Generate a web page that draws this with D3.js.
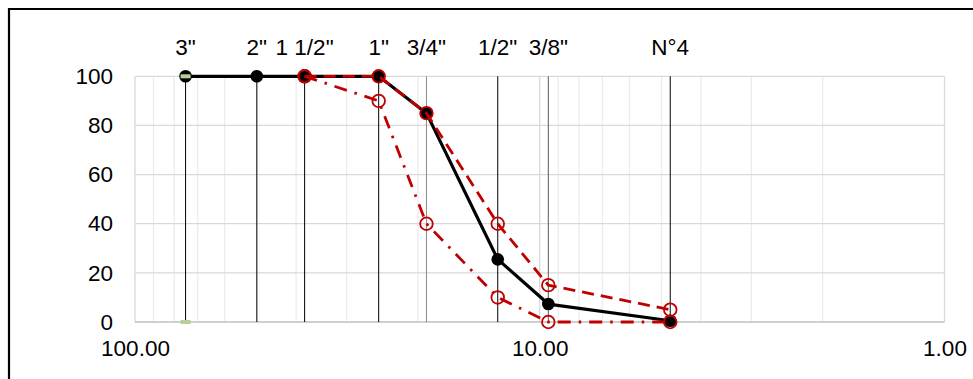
<!DOCTYPE html>
<html>
<head>
<meta charset="utf-8">
<script src="https://cdn.jsdelivr.net/npm/d3@7"></script>
<style>
  html, body { margin: 0; padding: 0; background: #fff; }
  svg { display: block; font-family: "Liberation Sans", Arial, sans-serif; }
</style>
</head>
<body>
<svg id="chart" width="973" height="379"></svg>
<script>
// ---- data ----
const sieveLabels = ['3"', '2"', '1 1/2"', '1"', '3/4"', '1/2"', '3/8"', 'N°4'];
const sieveSizes = [75, 50, 38.1, 25, 19.05, 12.7, 9.525, 4.76];
const sieveLineColors = ['#000', '#000', '#000', '#000', '#8c8c8c', '#000', '#595959', '#000'];
const passing = [100, 100, 100, 100, 85, 25.5, 7.3, 0.5];
const upperLimit = [null, null, 100, 100, 85, 40, 15, 5];
const lowerLimit = [null, null, 100, 90, 40, 10, 0, 0];
const greenMarks = [0, 100]; // markers at 3"
const yTicks = [0, 20, 40, 60, 80, 100];
const xMajorTicks = [100, 10, 1];
const xMinorTicks = [90, 80, 70, 60, 50, 40, 30, 20, 9, 8, 7, 6, 5, 4, 3, 2];

const svg = d3.select('#chart');
const pLeft = 135, pRight = 944.5, pTop = 76.3, pBottom = 322;

const x = d3.scaleLog().domain([100, 1]).range([pLeft, pRight]);
const y = d3.scaleLinear().domain([0, 100]).range([pBottom, pTop]);

// outer border
svg.append('path')
  .attr('d', `M9,385 L9,9 L980,9`)
  .attr('fill', 'none').attr('stroke', '#000').attr('stroke-width', 2.2);

// minor vertical gridlines
svg.append('g').selectAll('line').data(xMinorTicks).join('line')
  .attr('x1', d => x(d)).attr('x2', d => x(d))
  .attr('y1', pTop).attr('y2', pBottom)
  .attr('stroke', '#ececec').attr('stroke-width', 1.3);
svg.append('g').selectAll('line').data(xMajorTicks).join('line')
  .attr('x1', d => x(d)).attr('x2', d => x(d))
  .attr('y1', pTop).attr('y2', pBottom)
  .attr('stroke', '#d9d9d9').attr('stroke-width', 1.3);

// horizontal gridlines
svg.append('g').selectAll('line').data(yTicks).join('line')
  .attr('x1', pLeft).attr('x2', pRight)
  .attr('y1', d => y(d)).attr('y2', d => y(d))
  .attr('stroke', d => d === 0 ? '#bfbfbf' : '#d9d9d9').attr('stroke-width', 1.3);

// y axis labels
const yAxis = d3.axisLeft(y).tickValues(yTicks).tickSize(0).tickPadding(22).tickFormat(d3.format('d'));
const gy = svg.append('g').attr('transform', `translate(${pLeft},0)`).call(yAxis);
gy.select('.domain').remove();
gy.selectAll('text').attr('font-size', 22.5).attr('fill', '#000')
  .attr('font-family', '"Liberation Sans", Arial, sans-serif');

// x axis labels
const xAxis = d3.axisBottom(x).tickValues(xMajorTicks).tickSize(0).tickPadding(18).tickFormat(d3.format('.2f'));
const gx = svg.append('g').attr('transform', `translate(0,${pBottom})`).call(xAxis);
gx.select('.domain').remove();
gx.selectAll('text').attr('font-size', 22.5).attr('fill', '#000')
  .attr('font-family', '"Liberation Sans", Arial, sans-serif');

// sieve vertical lines
svg.append('g').selectAll('line').data(sieveSizes).join('line')
  .attr('x1', d => x(d)).attr('x2', d => x(d))
  .attr('y1', y(100)).attr('y2', y(0))
  .attr('stroke', (d, i) => sieveLineColors[i]).attr('stroke-width', 1);

// sieve labels on top
svg.append('g').selectAll('text').data(sieveLabels).join('text')
  .attr('x', (d, i) => x(sieveSizes[i])).attr('y', 55)
  .attr('text-anchor', 'middle').attr('font-size', 22.5).attr('fill', '#000')
  .text(d => d);

function pts(vals) {
  return vals.map((v, i) => ({ s: sieveSizes[i], v })).filter(p => p.v !== null);
}
const line = d3.line().x(p => x(p.s)).y(p => y(p.v));

// passing curve
svg.append('path').datum(pts(passing)).attr('d', line)
  .attr('fill', 'none').attr('stroke', '#000').attr('stroke-width', 3.2)
  .attr('stroke-linejoin', 'round');
svg.append('g').selectAll('circle').data(pts(passing)).join('circle')
  .attr('cx', p => x(p.s)).attr('cy', p => y(p.v)).attr('r', 6.3)
  .attr('fill', '#000');

// upper limit (dashed)
svg.append('path').datum(pts(upperLimit)).attr('d', line)
  .attr('fill', 'none').attr('stroke', '#c00000').attr('stroke-width', 2.8)
  .attr('stroke-dasharray', '12,7');
// lower limit (dash-dot)
svg.append('path').datum(pts(lowerLimit)).attr('d', line)
  .attr('fill', 'none').attr('stroke', '#c00000').attr('stroke-width', 2.8)
  .attr('stroke-dasharray', '13,8,2.5,8');

[upperLimit, lowerLimit].forEach(arr => {
  svg.append('g').selectAll('circle').data(pts(arr)).join('circle')
    .attr('cx', p => x(p.s)).attr('cy', p => y(p.v)).attr('r', 6.3)
    .attr('fill', 'none').attr('stroke', '#c00000').attr('stroke-width', 1.8);
});

// green dash markers at 3"
svg.append('g').selectAll('rect').data(greenMarks).join('rect')
  .attr('x', x(sieveSizes[0]) - 5).attr('y', d => y(d) - 2)
  .attr('width', 10).attr('height', 4)
  .attr('fill', '#b5d19a');
</script>
</body>
</html>
